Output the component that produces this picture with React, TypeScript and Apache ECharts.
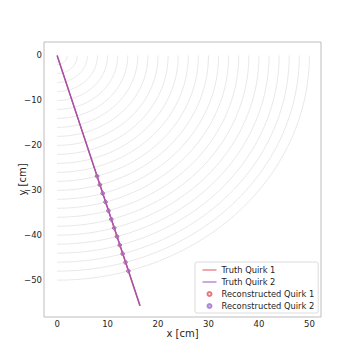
import React, { useEffect, useRef } from "react";
import * as echarts from "echarts";

// Detector layer radii [cm]
const layerRadii = [2, 4, 6, 8, 10, 12, 14, 16, 18, 20, 22, 24, 26, 28, 30, 32, 34, 36, 38, 40, 42, 44, 46, 48, 50];

// Truth trajectories [x, y] in cm
const truthQuirk1: number[][] = [[0, 0], [16.4, -55.7]];
const truthQuirk2: number[][] = [[0, 0], [16.45, -55.7]];

// Reconstructed hits [x, y] in cm
const recoQuirk1: number[][] = [
  [7.9, -26.86], [8.47, -28.78], [9.03, -30.7], [9.59, -32.62], [10.16, -34.54], [10.72, -36.46],
  [11.29, -38.38], [11.85, -40.29], [12.42, -42.21], [12.98, -44.13], [13.55, -46.05], [14.11, -47.97],
];
const recoQuirk2: number[][] = [
  [7.92, -26.85], [8.48, -28.77], [9.05, -30.69], [9.6, -32.61], [10.18, -34.53], [10.73, -36.45],
  [11.3, -38.37], [11.87, -40.28], [12.43, -42.2], [13.0, -44.12], [13.56, -46.04], [14.13, -47.96],
];

const xTicks = [0, 10, 20, 30, 40, 50];
const yTicks = [0, -10, -20, -30, -40, -50];

const FONT = "DejaVu Sans";
const TXT = "#262626";
const RED = "#e0555a";
const PURPLE = "#a052b8";

function fmt(v: number, ticks: number[]) {
  if (!ticks.some((t) => Math.abs(t - v) < 1e-6)) return "";
  return v < 0 ? "\u2212" + Math.abs(v) : String(v);
}

export default function App() {
  const ref = useRef<HTMLDivElement>(null);
  useEffect(() => {
    document.body.style.margin = "0";
    if (!ref.current) return;
    const chart = echarts.init(ref.current, undefined, { renderer: "svg" });

    const arcSeries = layerRadii.map((r) => {
      const pts: number[][] = [];
      for (let i = 0; i <= 60; i++) {
        const a = (Math.PI / 2) * (i / 60);
        pts.push([r * Math.sin(a), -r * Math.cos(a)]);
      }
      return {
        type: "line",
        data: pts,
        showSymbol: false,
        symbol: "none",
        silent: true,
        lineStyle: { color: "#e2e2e2", width: 0.8 },
        z: 1,
      };
    });

    chart.setOption({
      animation: false,
      grid: {
        left: 44,
        top: 42,
        right: 36,
        bottom: 40,
        outerBoundsMode: "none",
        containLabel: false,
        show: true,
        borderColor: "#bdbdbd",
        borderWidth: 1,
        backgroundColor: "#ffffff",
      },
      xAxis: {
        type: "value",
        min: -2.6,
        max: 52.3,
        minInterval: 10,
        maxInterval: 10,
        name: "x [cm]",
        nameLocation: "middle",
        nameGap: 11,
        nameMoveOverlap: false,
        nameTextStyle: { fontFamily: FONT, fontSize: 10, color: TXT },
        axisLine: { show: false },
        axisTick: { show: false },
        splitLine: { show: false },
        axisLabel: {
          fontFamily: FONT,
          fontSize: 8.5,
          color: TXT,
          margin: 2,
          formatter: (v: number) => fmt(v, xTicks),
        },
      },
      yAxis: {
        type: "value",
        min: -58.2,
        max: 3,
        minInterval: 10,
        maxInterval: 10,
        name: "y [cm]",
        nameLocation: "middle",
        nameGap: 17,
        nameMoveOverlap: false,
        nameTextStyle: { fontFamily: FONT, fontSize: 10, color: TXT },
        axisLine: { show: false },
        axisTick: { show: false },
        splitLine: { show: false },
        axisLabel: {
          fontFamily: FONT,
          fontSize: 8.5,
          color: TXT,
          margin: 2,
          formatter: (v: number) => fmt(v, yTicks),
        },
      },
      legend: {
        orient: "vertical",
        left: 195,
        top: 262,
        padding: [3, 4, 2, 7],
        itemWidth: 14,
        itemHeight: 4,
        itemGap: 2,
        backgroundColor: "rgba(255,255,255,0.85)",
        borderColor: "#dcdcdc",
        borderWidth: 1,
        borderRadius: 2,
        textStyle: { fontFamily: FONT, fontSize: 8.3, color: TXT, lineHeight: 10 },
        data: [
          { name: "Truth Quirk 1", itemStyle: { opacity: 0 }, lineStyle: { width: 1 } },
          { name: "Truth Quirk 2", itemStyle: { opacity: 0 }, lineStyle: { width: 1 } },
          { name: "Reconstructed Quirk 1" },
          { name: "Reconstructed Quirk 2" },
        ],
      },
      series: [
        ...arcSeries,
        {
          name: "Truth Quirk 1",
          type: "line",
          data: truthQuirk1,
          symbol: "none",
          showSymbol: false,
          lineStyle: { color: RED, width: 1.3 },
          itemStyle: { color: RED },
          z: 3,
        },
        {
          name: "Truth Quirk 2",
          type: "line",
          data: truthQuirk2,
          symbol: "none",
          showSymbol: false,
          lineStyle: { color: PURPLE, width: 1.3 },
          itemStyle: { color: "#9a70cc" },
          z: 4,
        },
        {
          name: "Reconstructed Quirk 1",
          type: "scatter",
          data: recoQuirk1,
          symbol: "circle",
          symbolSize: 3.5,
          itemStyle: { color: "rgba(0,0,0,0)", borderColor: RED, borderWidth: 1 },
          z: 5,
        },
        {
          name: "Reconstructed Quirk 2",
          type: "scatter",
          data: recoQuirk2,
          symbol: "circle",
          symbolSize: 3.5,
          itemStyle: { color: "rgba(160,112,208,0.5)", borderColor: "#a070d0", borderWidth: 1 },
          z: 6,
        },
      ],
    });
    return () => chart.dispose();
  }, []);
  return <div ref={ref} style={{ width: 357, height: 357 }} />;
}
